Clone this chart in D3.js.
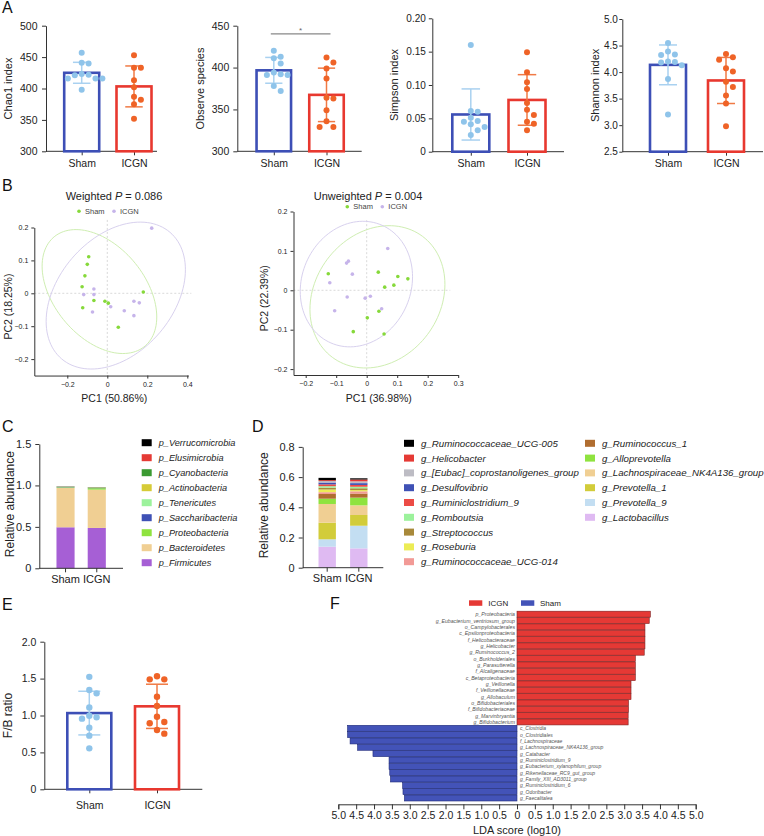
<!DOCTYPE html>
<html><head><meta charset="utf-8">
<script src="https://cdn.jsdelivr.net/npm/d3@7"></script>
<style>
body{margin:0;background:#fff;}
svg{font-family:"Liberation Sans",Arial,sans-serif;}
</style></head><body>
<svg id="c" width="764" height="836"></svg>
<script>
// ---------------- DATA ----------------
const groups = ["Sham", "ICGN"];

const chao1Sham = [457, 441, 440, 423, 422, 421, 416, 416, 416, 398];
const chao1ICGN = [453, 433, 433, 413, 402, 387, 382, 375, 352];
const obsSham = [420, 413, 411, 405, 392, 391, 391, 394, 378, 372];
const obsICGN = [412, 406, 399, 387, 363, 364, 349, 336, 329, 329];
const simpsonSham = [0.160, 0.061, 0.060, 0.051, 0.045, 0.046, 0.041, 0.037, 0.032, 0.025];
const simpsonICGN = [0.149, 0.119, 0.104, 0.094, 0.063, 0.073, 0.055, 0.042, 0.045, 0.032];
const shannonSham = [4.55, 4.32, 4.39, 4.33, 4.13, 4.19, 4.20, 4.18, 3.87, 3.20];
const shannonICGN = [4.34, 4.28, 4.23, 4.01, 4.07, 3.82, 3.72, 3.56, 3.41, 2.98];
const fbSham = [1.524, 1.30, 1.345, 1.11, 0.997, 0.957, 0.976, 0.835, 0.727, 0.555];
const fbICGN = [1.531, 1.49, 1.49, 1.255, 1.129, 0.984, 0.894, 0.912, 0.754, 0.804];

// PCoA (weighted)
const wShamX = [-0.093, -0.100, -0.112, -0.126, -0.123, -0.067, -0.012, 0.005, 0.055, 0.180];
const wShamY = [0.111, 0.088, 0.053, 0.020, -0.044, -0.022, -0.024, -0.030, -0.103, 0.004];
const wIcgnX = [0.222, -0.067, -0.118, -0.067, -0.074, 0.017, 0.085, 0.133, 0.160, 0.133];
const wIcgnY = [0.198, 0.013, -0.004, -0.004, -0.057, -0.041, -0.053, -0.024, -0.029, -0.068];
// PCoA (unweighted)
const uShamX = [-0.126, 0.038, 0.102, 0.135, 0.089, 0.059, 0.040, 0.002, -0.044, 0.057];
const uShamY = [0.042, 0.046, 0.035, 0.029, 0.013, 0.008, -0.053, -0.070, -0.105, -0.111];
const uIcgnX = [0.069, -0.060, -0.066, -0.047, -0.121, -0.064, -0.005, 0.012, 0.049, -0.105];
const uIcgnY = [0.106, 0.074, 0.069, 0.041, 0.019, -0.017, -0.020, -0.015, -0.047, -0.052];
const F95 = 4.2565; // qf(0.95, 2, 9)

// Phylum composition (bottom -> top)
const phyla = ["p_Firmicutes", "p_Bacteroidetes", "p_Proteobacteria", "p_Saccharibacteria", "p_Tenericutes", "p_Actinobacteria", "p_Cyanobacteria", "p_Elusimicrobia", "p_Verrucomicrobia"];
const phylaSham = [0.495, 0.475, 0.008, 0.006, 0.002, 0.002, 0.001, 0.001, 0.001];
const phylaICGN = [0.487, 0.462, 0.018, 0.004, 0.003, 0.003, 0.002, 0.001, 0.001];
const phylaColors = ["#a65fd5", "#f0cf93", "#8fe33f", "#3f51b5", "#9cf29c", "#d6cb37", "#3b9a32", "#e53a35", "#000000"];

// Genus composition (bottom -> top)
const genera = ["g_Lactobacillus", "g_Prevotella_9", "g_Prevotella_1", "g_Lachnospiraceae_NK4A136_group", "g_Alloprevotella", "g_Ruminococcus_1", "g_Ruminococcaceae_UCG-014", "g_Roseburia", "g_Streptococcus", "g_Romboutsia", "g_Ruminiclostridium_9", "g_Desulfovibrio", "g_[Eubac]_coprostanoligenes_group", "g_Helicobacter", "g_Ruminococcaceae_UCG-005"];
const generaSham = [0.139, 0.049, 0.110, 0.124, 0.035, 0.031, 0.012, 0.018, 0.012, 0.010, 0.012, 0.012, 0.010, 0.006, 0.015];
const generaICGN = [0.128, 0.150, 0.071, 0.064, 0.051, 0.027, 0.015, 0.008, 0.012, 0.010, 0.012, 0.012, 0.012, 0.012, 0.008];
const generaColors = ["#dfbaf2", "#c3def2", "#d2cc3a", "#f0cf93", "#8fe33f", "#b06d30", "#f29a96", "#ecec55", "#a8893a", "#9cf29c", "#ec4b45", "#3f51b5", "#bdbcc4", "#e53a35", "#000000"];

// LEfSe
const ldaICGNNames = ["p_Proteobacteria", "g_Eubacterium_ventriosum_group", "o_Campylobacterales", "c_Epsilonproteobacteria", "f_Helicobacteraceae", "g_Helicobacter", "g_Ruminococcus_2", "o_Burkholderiales", "g_Parasutterella", "f_Alcaligenaceae", "c_Betaproteobacteria", "g_Veillonella", "f_Veillonellaceae", "g_Allobaculum", "o_Bifidobacteriales", "f_Bifidobacteriaceae", "g_Marvinbryantia", "g_Bifidobacterium"];
const ldaICGNScores = [3.73, 3.70, 3.58, 3.58, 3.58, 3.58, 3.56, 3.31, 3.31, 3.31, 3.31, 3.19, 3.19, 3.19, 3.12, 3.12, 3.11, 3.11];
const ldaShamNames = ["c_Clostridia", "o_Clostridiales", "f_Lachnospiraceae", "g_Lachnospiraceae_NK4A136_group", "g_Catabacter", "g_Ruminiclostridium_9", "g_Eubacterium_xylanophilum_group", "g_Rikenellaceae_RC9_gut_group", "g_Family_XIII_AD3011_group", "g_Ruminiclostridium_6", "g_Odoribacter", "g_Faecalitalea"];
const ldaShamScores = [4.74, 4.74, 4.67, 4.46, 4.03, 3.58, 3.58, 3.56, 3.54, 3.20, 3.19, 3.15];
const ldaTicks = d3.range(-5, 5.01, 0.5);

// ---------------- STYLE ----------------
const svg = d3.select("#c");
const TXT = "#222", AX = "#333";
const FONT = "Liberation Sans, Arial, sans-serif";
const barStroke = ["#3d4fb6", "#e8382f"];
const dotFill = ["#8fc4ea", "#ef6327"];
const errCol = ["#a9d1f0", "#f07a45"];

function styleAxis(g, fs) {
  g.selectAll("path,line").attr("stroke", AX).attr("stroke-width", 1);
  g.selectAll("text").attr("fill", TXT).attr("font-size", fs).attr("font-family", FONT);
}
function panelLabel(t, x, y) {
  svg.append("text").attr("x", x).attr("y", y).text(t).attr("font-size", 16).attr("fill", "#111");
}
function vTitle(g, text, x, yc, fs) {
  g.append("text").attr("transform", `translate(${x},${yc}) rotate(-90)`)
    .attr("text-anchor", "middle").attr("dominant-baseline", "central")
    .attr("font-size", fs).attr("fill", TXT).text(text);
}
function swarm(vals, y, cx, r) {
  const d = 2 * r + 0.9;
  const pts = vals.map(v => ({ v, y: y(v) })).sort((a, b) => a.y - b.y);
  const placed = [];
  pts.forEach(p => {
    const c = [0];
    for (let k = 1; k < 8; k++) c.push(k * d, -k * d);
    for (const off of c) {
      if (placed.every(q => Math.hypot(q.x - (cx + off), q.y - p.y) >= 2 * r + 0.6)) { p.x = cx + off; break; }
    }
    placed.push(p);
  });
  return placed;
}

function dotBar(o) {
  const g = svg.append("g");
  const y = d3.scaleLinear().domain(o.domain).range([o.yBot, o.yTop]);
  const x = d3.scalePoint().domain(groups).range(o.centers);
  const ya = g.append("g").attr("transform", `translate(${o.x0},0)`)
    .call(d3.axisLeft(y).tickValues(o.ticks).tickFormat(o.fmt).tickSize(o.ts).tickPadding(o.tp).tickSizeOuter(0));
  styleAxis(ya, o.fs);
  g.append("line").attr("x1", o.x0).attr("x2", o.xEnd).attr("y1", o.yBot).attr("y2", o.yBot).attr("stroke", AX);
  const xa = g.append("g").attr("transform", `translate(0,${o.yBot})`)
    .call(d3.axisBottom(x).tickSize(4).tickPadding(o.xpad));
  xa.select(".domain").remove();
  styleAxis(xa, o.xfs);
  vTitle(g, o.title, o.titleX, (o.yTop + o.yBot) / 2, o.tfs);
  o.data.forEach((vals, i) => {
    const m = d3.mean(vals), sd = d3.deviation(vals), cx = x(groups[i]);
    g.append("rect").attr("x", cx - o.barW / 2).attr("y", y(m)).attr("width", o.barW)
      .attr("height", o.yBot - y(m)).attr("fill", "#fff").attr("stroke", barStroke[i]).attr("stroke-width", 2.6);
    const cw = o.barW * 0.25;
    const eg = g.append("g").attr("stroke", errCol[i]).attr("stroke-width", 1.5);
    eg.append("line").attr("x1", cx).attr("x2", cx).attr("y1", y(m + sd)).attr("y2", y(m - sd));
    eg.append("line").attr("x1", cx - cw).attr("x2", cx + cw).attr("y1", y(m + sd)).attr("y2", y(m + sd));
    eg.append("line").attr("x1", cx - cw).attr("x2", cx + cw).attr("y1", y(m - sd)).attr("y2", y(m - sd));
    g.selectAll(null).data(swarm(vals, y, cx, o.r)).enter().append("circle")
      .attr("cx", d => d.x).attr("cy", d => d.y).attr("r", o.r).attr("fill", dotFill[i]);
  });
  if (o.sig) {
    const top = y(d3.max(o.data.flat())) - 17;
    const x1 = x(groups[0]) - 3, x2 = x(groups[1]) + 4;
    g.append("line").attr("x1", x1).attr("x2", x2).attr("y1", top).attr("y2", top).attr("stroke", "#888").attr("stroke-width", 1.3);
    g.append("text").attr("x", (x1 + x2) / 2).attr("y", top - 1).attr("text-anchor", "middle").attr("font-size", 8).attr("fill", "#666").text(o.sig);
  }
}

// ---------------- PANEL A ----------------
panelLabel("A", 2, 13);
const intFmt = d3.format("d");
dotBar({ x0: 46, xEnd: 157, yTop: 25.7, yBot: 151.3, domain: [300, 500], ticks: [300, 350, 400, 450, 500], fmt: intFmt, ts: 4, tp: 4.5,
  centers: [81.7, 134], barW: 35, data: [chao1Sham, chao1ICGN], title: "Chao1 index", titleX: 8, fs: 10.5, xfs: 10.5, tfs: 11, xpad: 4, r: 3 });
dotBar({ x0: 237.3, xEnd: 361.7, yTop: 25.7, yBot: 151.3, domain: [300, 450], ticks: [300, 350, 400, 450], fmt: intFmt, ts: 4, tp: 4,
  centers: [273.8, 326.5], barW: 34.5, data: [obsSham, obsICGN], title: "Observe species", titleX: 200, fs: 10.5, xfs: 10.5, tfs: 11, xpad: 4, r: 3, sig: "*" });
dotBar({ x0: 432.3, xEnd: 564, yTop: 18.3, yBot: 151.7, domain: [0, 0.2], ticks: [0, 0.05, 0.1, 0.15, 0.2], fmt: d => d === 0 ? "0" : d3.format(".2f")(d), ts: 3.5, tp: 3,
  centers: [470.8, 527], barW: 37, data: [simpsonSham, simpsonICGN], title: "Simpson index", titleX: 393.5, fs: 10, xfs: 10.5, tfs: 11, xpad: 4, r: 3 });
dotBar({ x0: 622.3, xEnd: 763, yTop: 19, yBot: 151.7, domain: [2.5, 5], ticks: [2.5, 3, 3.5, 4, 4.5, 5], fmt: d3.format(".1f"), ts: 3, tp: 1.5,
  centers: [668, 726], barW: 36, data: [shannonSham, shannonICGN], title: "Shannon index", titleX: 594.5, fs: 10, xfs: 10.5, tfs: 11, xpad: 4, r: 3 });

// ---------------- PANEL B ----------------
panelLabel("B", 2, 191);
const pcFmt = d => Math.abs(d) < 1e-9 ? "0" : d3.format(".1f")(d);
function ellipse(xs, ys) {
  const n = xs.length, mx = d3.mean(xs), my = d3.mean(ys);
  let sxx = 0, syy = 0, sxy = 0;
  for (let i = 0; i < n; i++) { const dx = xs[i] - mx, dy = ys[i] - my; sxx += dx * dx; syy += dy * dy; sxy += dx * dy; }
  sxx /= n - 1; syy /= n - 1; sxy /= n - 1;
  const a = Math.sqrt(sxx), b = sxy / a, c = Math.sqrt(syy - b * b), s = Math.sqrt(2 * F95);
  return d3.range(0, 361, 3).map(t => { const th = t * Math.PI / 180, u = Math.cos(th), v = Math.sin(th); return [mx + s * a * u, my + s * (b * u + c * v)]; });
}
function pcoa(o) {
  const g = svg.append("g");
  const x = d3.scaleLinear().domain(o.xDom).range(o.xRange);
  const y = d3.scaleLinear().domain(o.yDom).range(o.yRange);
  g.append("line").attr("x1", x(0)).attr("x2", x(0)).attr("y1", y(o.vTop)).attr("y2", o.yRange[0])
    .attr("stroke", "#cfcfcf").attr("stroke-dasharray", "2,2").attr("stroke-width", 0.8);
  g.append("line").attr("x1", o.xRange[0]).attr("x2", x(o.hEnd)).attr("y1", y(0)).attr("y2", y(0))
    .attr("stroke", "#cfcfcf").attr("stroke-dasharray", "2,2").attr("stroke-width", 0.8);
  const line = d3.line().x(d => x(d[0])).y(d => y(d[1]));
  g.append("path").attr("d", line(ellipse(o.sx, o.sy))).attr("fill", "none").attr("stroke", "#cfeeb2").attr("stroke-width", 1);
  g.append("path").attr("d", line(ellipse(o.ix, o.iy))).attr("fill", "none").attr("stroke", "#d8d1ee").attr("stroke-width", 1);
  g.selectAll(null).data(o.ix.map((v, i) => [v, o.iy[i]])).enter().append("circle")
    .attr("cx", d => x(d[0])).attr("cy", d => y(d[1])).attr("r", 1.8).attr("fill", "#c6b4ea");
  g.selectAll(null).data(o.sx.map((v, i) => [v, o.sy[i]])).enter().append("circle")
    .attr("cx", d => x(d[0])).attr("cy", d => y(d[1])).attr("r", 1.8).attr("fill", "#86d93a");
  const xa = g.append("g").attr("transform", `translate(0,${o.yRange[0]})`)
    .call(d3.axisBottom(x).tickValues(o.xTicks).tickFormat(pcFmt).tickSize(3).tickPadding(3).tickSizeOuter(0));
  styleAxis(xa, 7);
  const ya = g.append("g").attr("transform", `translate(${o.xRange[0]},0)`)
    .call(d3.axisLeft(y).tickValues(o.yTicks).tickFormat(pcFmt).tickSize(3).tickPadding(3).tickSizeOuter(0));
  styleAxis(ya, 7);
  vTitle(g, o.yTitle, o.yTitleX, (o.yRange[0] + o.yRange[1]) / 2 + 5, 10.5);
  g.append("text").attr("x", (o.xRange[0] + o.xRange[1]) / 2 + 3).attr("y", 402).attr("text-anchor", "middle")
    .attr("font-size", 10.5).attr("fill", TXT).text(o.xTitle);
  const t = g.append("text").attr("x", o.titleX).attr("y", o.titleY).attr("text-anchor", "middle").attr("font-size", 11).attr("fill", TXT);
  t.append("tspan").text(o.title + " ");
  t.append("tspan").attr("font-style", "italic").text("P");
  t.append("tspan").text(" = " + o.p);
  const lg = g.append("g").attr("transform", `translate(${o.legX},${o.legY})`);
  lg.append("circle").attr("cx", 0).attr("cy", 0).attr("r", 1.8).attr("fill", "#86d93a");
  lg.append("text").attr("x", 6).attr("y", 0).attr("dominant-baseline", "central").attr("font-size", 7.5).attr("fill", "#444").text("Sham");
  lg.append("circle").attr("cx", 35).attr("cy", 0).attr("r", 1.8).attr("fill", "#c6b4ea");
  lg.append("text").attr("x", 41).attr("y", 0).attr("dominant-baseline", "central").attr("font-size", 7.5).attr("fill", "#444").text("ICGN");
}
pcoa({ xDom: [-0.365, 0.405], xRange: [34.3, 188.3], yDom: [-0.25, 0.2], yRange: [375.55, 227.5],
  xTicks: [-0.2, 0, 0.2, 0.4], yTicks: [-0.2, -0.1, 0, 0.1, 0.2], vTop: 0.223, hEnd: 0.42,
  sx: wShamX, sy: wShamY, ix: wIcgnX, iy: wIcgnY, yTitle: "PC2 (18.25%)", yTitleX: 8, xTitle: "PC1 (50.86%)",
  title: "Weighted", p: "0.086", titleX: 114, titleY: 200, legX: 79, legY: 211.3 });
pcoa({ xDom: [-0.24, 0.3], xRange: [293.5, 458.2], yDom: [-0.215, 0.2], yRange: [375, 211.5],
  xTicks: [-0.2, -0.1, 0, 0.1, 0.2, 0.3], yTicks: [-0.2, -0.1, 0, 0.1, 0.2], vTop: 0.178, hEnd: 0.274,
  sx: uShamX, sy: uShamY, ix: uIcgnX, iy: uIcgnY, yTitle: "PC2 (22.39%)", yTitleX: 263.5, xTitle: "PC1 (36.98%)",
  title: "Unweighted", p: "0.004", titleX: 368, titleY: 200, legX: 347.3, legY: 206.7 });

// ---------------- PANELS C & D ----------------
function stacked(o) {
  const g = svg.append("g");
  const y = d3.scaleLinear().domain(o.domain).range([o.yBot, o.yTop]);
  const x = d3.scaleBand().domain(groups).range(o.bandRange).paddingInner(o.padIn).paddingOuter(o.padOut);
  const rows = groups.map((gname, gi) => { const r = { group: gname }; o.keys.forEach((k, i) => r[k] = o.vals[gi][i]); return r; });
  const series = d3.stack().keys(o.keys)(rows);
  series.forEach((s, si) => {
    g.selectAll(null).data(s).enter().append("rect")
      .attr("x", d => x(d.data.group)).attr("width", x.bandwidth())
      .attr("y", d => y(d[1])).attr("height", d => y(d[0]) - y(d[1])).attr("fill", o.colors[si]);
  });
  const ya = g.append("g").attr("transform", `translate(${o.x0},0)`)
    .call(d3.axisLeft(y).tickValues(o.ticks).tickFormat(d => d === 0 ? "0" : d3.format(".1f")(d)).tickSize(4).tickPadding(4).tickSizeOuter(0));
  styleAxis(ya, 11);
  g.append("line").attr("x1", o.x0).attr("x2", o.xEnd).attr("y1", o.yBot).attr("y2", o.yBot).attr("stroke", AX);
  const xa = g.append("g").attr("transform", `translate(0,${o.yBot})`)
    .call(d3.axisBottom(x).tickSize(4).tickPadding(3));
  xa.select(".domain").remove();
  styleAxis(xa, 11);
  vTitle(g, "Relative abundance", o.titleX, (o.yTop + o.yBot) / 2 - 2, 12);
  o.legend.forEach((col, ci) => {
    col.forEach((idx, ri) => {
      const ly = o.legY + ri * o.legStep;
      g.append("rect").attr("x", o.legX[ci]).attr("y", ly - 3.5).attr("width", 10).attr("height", 7).attr("fill", o.colors[idx]);
      g.append("text").attr("x", o.legX[ci] + 17).attr("y", ly).attr("dominant-baseline", "central")
        .attr("font-style", "italic").attr("font-size", o.legFs).attr("fill", TXT).text(o.keys[idx]);
    });
  });
}
panelLabel("C", 2, 432);
stacked({ keys: phyla, vals: [phylaSham, phylaICGN], colors: phylaColors, domain: [0, 1.5], yTop: 444, yBot: 568.3,
  ticks: [0, 0.5, 1.0, 1.5], x0: 39.3, xEnd: 123, bandRange: [39.3, 123], padIn: 0.42, padOut: 0.55, titleX: 10,
  legend: [[8, 7, 6, 5, 4, 3, 2, 1, 0]], legX: [141.7], legY: 442.7, legStep: 15, legFs: 9.2 });
panelLabel("D", 252, 432);
stacked({ keys: genera, vals: [generaSham, generaICGN], colors: generaColors, domain: [0, 0.8], yTop: 446.9, yBot: 567.7,
  ticks: [0, 0.2, 0.4, 0.6, 0.8], x0: 302.7, xEnd: 383.3, bandRange: [302.7, 383.3], padIn: 0.45, padOut: 0.5, titleX: 263.5,
  legend: [[14, 13, 12, 11, 10, 9, 8, 7, 6], [5, 4, 3, 2, 1, 0]], legX: [404, 585], legY: 443.3, legStep: 14.8, legFs: 9.7 });

// ---------------- PANEL E ----------------
panelLabel("E", 2, 609.5);
dotBar({ x0: 44.3, xEnd: 202.3, yTop: 641.7, yBot: 789.3, domain: [0, 2], ticks: [0, 0.5, 1, 1.5, 2], fmt: d => d === 0 ? "0" : d3.format(".1f")(d), ts: 4, tp: 4,
  centers: [89.3, 157], barW: 44, data: [fbSham, fbICGN], title: "F/B ratio", titleX: 8, fs: 10.5, xfs: 10.5, tfs: 12, xpad: 8, r: 3.2 });

// ---------------- PANEL F ----------------
panelLabel("F", 330, 608.5);
(function () {
  const g = svg.append("g");
  const names = ldaICGNNames.concat(ldaShamNames);
  const fx = d3.scaleLinear().domain([-5, 5]).range([338.3, 695.7]);
  const fy = d3.scaleBand().domain(names).range([611.2, 801]).paddingInner(0.06);
  g.selectAll(null).data(ldaICGNNames.map((n, i) => ({ n, v: ldaICGNScores[i] }))).enter().append("rect")
    .attr("x", fx(0)).attr("width", d => fx(d.v) - fx(0)).attr("y", d => fy(d.n)).attr("height", fy.bandwidth())
    .attr("fill", "#e53935").attr("stroke", "#7e1f1f").attr("stroke-width", 0.6);
  g.selectAll(null).data(ldaShamNames.map((n, i) => ({ n, v: ldaShamScores[i] }))).enter().append("rect")
    .attr("x", d => fx(-d.v)).attr("width", d => fx(0) - fx(-d.v)).attr("y", d => fy(d.n)).attr("height", fy.bandwidth())
    .attr("fill", "#4353b8").attr("stroke", "#1f2a78").attr("stroke-width", 0.6);
  g.selectAll(null).data(ldaICGNNames).enter().append("text")
    .attr("x", fx(0) - 2).attr("y", d => fy(d) + fy.bandwidth() / 2).attr("text-anchor", "end").attr("dominant-baseline", "central")
    .attr("font-size", 5.2).attr("font-style", "italic").attr("fill", "#555").text(d => d);
  g.selectAll(null).data(ldaShamNames).enter().append("text")
    .attr("x", fx(0) + 3).attr("y", d => fy(d) + fy.bandwidth() / 2).attr("text-anchor", "start").attr("dominant-baseline", "central")
    .attr("font-size", 5).attr("font-style", "italic").attr("fill", "#555").text(d => d);
  const xa = g.append("g").attr("transform", "translate(0,804.3)")
    .call(d3.axisBottom(fx).tickValues(ldaTicks).tickFormat(d => Math.abs(d) < 1e-9 ? "0" : d3.format(".1f")(Math.abs(d))).tickSize(5).tickPadding(2));
  styleAxis(xa, 10.5);
  g.append("text").attr("x", fx(0)).attr("y", 834).attr("text-anchor", "middle").attr("font-size", 11).attr("fill", TXT).text("LDA score (log10)");
  const lg = g.append("g");
  lg.append("rect").attr("x", 469).attr("y", 600.3).attr("width", 13.3).attr("height", 5.5).attr("fill", "#e53935");
  lg.append("text").attr("x", 488.3).attr("y", 603).attr("dominant-baseline", "central").attr("font-size", 8).attr("fill", TXT).text("ICGN");
  lg.append("rect").attr("x", 521).attr("y", 600.3).attr("width", 13.3).attr("height", 5.5).attr("fill", "#4353b8");
  lg.append("text").attr("x", 540).attr("y", 603).attr("dominant-baseline", "central").attr("font-size", 8).attr("fill", TXT).text("Sham");
})();
</script>
</body></html>
